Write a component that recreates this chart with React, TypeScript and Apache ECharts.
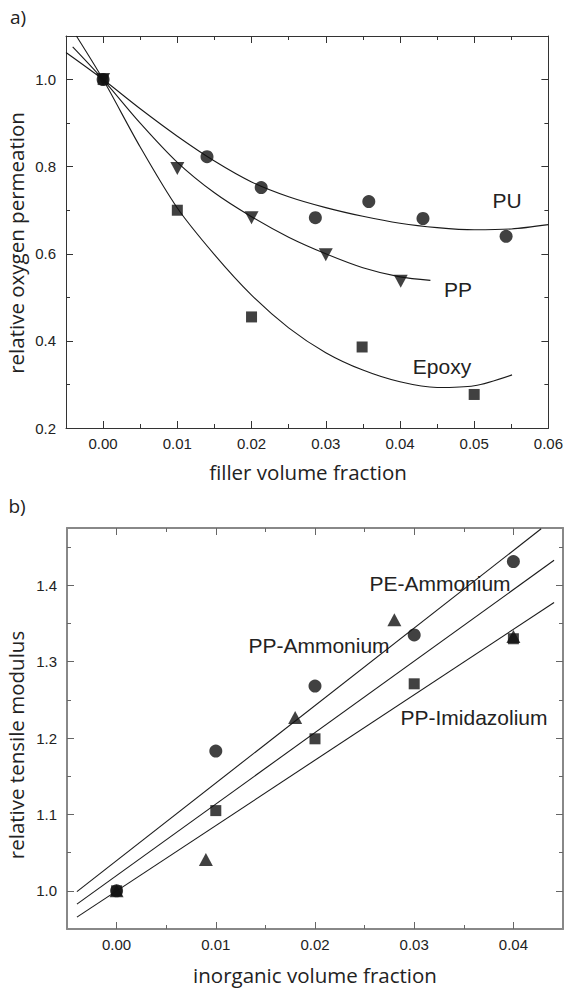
import React, { useEffect, useRef } from "react";
import * as echarts from "echarts";

// ---------- Panel a) data ----------
const puPoints: [number, number][] = [
  [0, 1.0], [0.014, 0.823], [0.0213, 0.752], [0.0286, 0.683], [0.0358, 0.72], [0.0431, 0.681], [0.0543, 0.64],
];
const ppPoints: [number, number][] = [
  [0, 1.0], [0.01, 0.796], [0.02, 0.683], [0.03, 0.598], [0.0401, 0.537],
];
const epoxyPoints: [number, number][] = [
  [0, 1.0], [0.01, 0.7], [0.02, 0.455], [0.0349, 0.386], [0.05, 0.277],
];
const puFit: [number, number][] = [
  [-0.005, 1.062], [0, 1.0], [0.005, 0.933], [0.01, 0.87], [0.015, 0.813], [0.02, 0.765],
  [0.025, 0.731], [0.03, 0.706], [0.035, 0.686], [0.04, 0.67], [0.045, 0.66], [0.05, 0.655],
  [0.055, 0.657], [0.06, 0.667],
];
const ppFit: [number, number][] = [
  [-0.0041, 1.075], [0, 1.0], [0.005, 0.9], [0.01, 0.81], [0.015, 0.74], [0.02, 0.685],
  [0.025, 0.638], [0.03, 0.6], [0.035, 0.568], [0.04, 0.547], [0.0441, 0.539],
];
const epoxyFit: [number, number][] = [
  [-0.0036, 1.1], [0, 1.0], [0.005, 0.845], [0.01, 0.705], [0.015, 0.598], [0.02, 0.505],
  [0.025, 0.43], [0.03, 0.373], [0.035, 0.333], [0.04, 0.306], [0.045, 0.293], [0.05, 0.297],
  [0.0551, 0.322],
];
const aXMajor = [0, 0.01, 0.02, 0.03, 0.04, 0.05, 0.06];
const aXMinor = [0.005, 0.015, 0.025, 0.035, 0.045, 0.055];
const aYMajor = [0.2, 0.4, 0.6, 0.8, 1.0];
const aYMinor = [0.3, 0.5, 0.7, 0.9];

// ---------- Panel b) data ----------
const circlePoints: [number, number][] = [
  [0, 1.0], [0.01, 1.183], [0.02, 1.268], [0.03, 1.335], [0.04, 1.431],
];
const trianglePoints: [number, number][] = [
  [0, 1.0], [0.009, 1.041], [0.018, 1.227], [0.028, 1.355], [0.04, 1.333],
];
const squarePoints: [number, number][] = [
  [0, 1.0], [0.01, 1.105], [0.02, 1.199], [0.03, 1.271], [0.04, 1.33],
];
const fitTop: [number, number][] = [[-0.004, 0.999], [0.0428, 1.474]];
const fitMiddle: [number, number][] = [[-0.004, 0.9826], [0.0441, 1.4327]];
const fitBottom: [number, number][] = [[-0.004, 0.9656], [0.0441, 1.3774]];
const bXMajor = [0, 0.01, 0.02, 0.03, 0.04];
const bXMinor = [0.005, 0.015, 0.025, 0.035];
const bYMajor = [1.0, 1.1, 1.2, 1.3, 1.4];
const bYMinor = [1.05, 1.15, 1.25, 1.35, 1.45];

const TICK_FONT = "'Liberation Sans', Arial, sans-serif";
const TITLE_FONT = "'Open Sans', 'Noto Sans', sans-serif";

function axisSet(
  kind: "x" | "y",
  gridIndex: number,
  min: number,
  max: number,
  major: number[],
  minor: number[],
  digits: number,
  lineColor: string,
  lineWidth: number,
  tickColor: string
) {
  const pos1 = kind === "x" ? "bottom" : "left";
  const pos2 = kind === "x" ? "top" : "right";
  const base = {
    type: "value",
    gridIndex,
    min,
    max,
    splitLine: { show: false },
    scale: true,
  };
  const mk = (position: string, ticks: number[], len: number, line: boolean, label: boolean) => ({
    ...base,
    position,
    axisLine: { show: line, onZero: false, lineStyle: { color: lineColor, width: lineWidth } },
    axisTick: {
      show: true,
      inside: true,
      length: len,
      customValues: ticks,
      lineStyle: { color: tickColor, width: 1 },
    },
    axisLabel: label
      ? {
          show: true,
          customValues: ticks,
          formatter: (v: number) => v.toFixed(digits),
          fontFamily: TICK_FONT,
          fontSize: 15,
          color: "#222",
          margin: kind === "x" ? 8 : 10,
        }
      : { show: false },
  });
  return [
    mk(pos1, major, 7, true, true),
    mk(pos1, minor, 4, false, false),
    mk(pos2, major, 7, true, false),
    mk(pos2, minor, 4, false, false),
  ];
}

export default function App() {
  const ref = useRef<HTMLDivElement>(null);
  useEffect(() => {
    if (!ref.current) return;
    const chart = echarts.init(ref.current, null, { renderer: "svg" });
    const markerColor = "#111";
    const fitStyle = { color: "#1a1a1a", width: 1.1 };
    const option: any = {
      animation: false,
      grid: [
        { left: 66, top: 36, width: 484, height: 392 },
        { left: 67, top: 528, width: 496, height: 401 },
      ],
      xAxis: [
        ...axisSet("x", 0, -0.005, 0.06, aXMajor, aXMinor, 2, "#333", 1, "#333"),
        ...axisSet("x", 1, -0.005, 0.045, bXMajor, bXMinor, 2, "#888", 2, "#666"),
      ],
      yAxis: [
        ...axisSet("y", 0, 0.2, 1.1, aYMajor, aYMinor, 1, "#333", 1, "#333"),
        ...axisSet("y", 1, 0.95, 1.475, bYMajor, bYMinor, 1, "#888", 2, "#666"),
      ],
      series: [
        { type: "line", name: "PU fit", xAxisIndex: 0, yAxisIndex: 0, data: puFit, smooth: 0.3, showSymbol: false, lineStyle: fitStyle, z: 2 },
        { type: "line", name: "PP fit", xAxisIndex: 0, yAxisIndex: 0, data: ppFit, smooth: 0.3, showSymbol: false, lineStyle: fitStyle, z: 2 },
        { type: "line", name: "Epoxy fit", xAxisIndex: 0, yAxisIndex: 0, data: epoxyFit, smooth: 0.3, showSymbol: false, lineStyle: fitStyle, z: 2 },
        { type: "scatter", name: "PU", xAxisIndex: 0, yAxisIndex: 0, data: puPoints, symbol: "circle", symbolSize: 13, itemStyle: { color: markerColor }, z: 3 },
        { type: "scatter", name: "PP", xAxisIndex: 0, yAxisIndex: 0, data: ppPoints, symbol: "triangle", symbolRotate: 180, symbolSize: [14, 13], itemStyle: { color: markerColor }, z: 3 },
        { type: "scatter", name: "Epoxy", xAxisIndex: 0, yAxisIndex: 0, data: epoxyPoints, symbol: "rect", symbolSize: 11, itemStyle: { color: markerColor }, z: 3 },

        { type: "line", name: "fit 1", xAxisIndex: 4, yAxisIndex: 4, data: fitTop, showSymbol: false, lineStyle: fitStyle, z: 2 },
        { type: "line", name: "fit 2", xAxisIndex: 4, yAxisIndex: 4, data: fitMiddle, showSymbol: false, lineStyle: fitStyle, z: 2 },
        { type: "line", name: "fit 3", xAxisIndex: 4, yAxisIndex: 4, data: fitBottom, showSymbol: false, lineStyle: fitStyle, z: 2 },
        { type: "scatter", name: "circles", xAxisIndex: 4, yAxisIndex: 4, data: circlePoints, symbol: "circle", symbolSize: 13, itemStyle: { color: markerColor }, z: 3 },
        { type: "scatter", name: "triangles", xAxisIndex: 4, yAxisIndex: 4, data: trianglePoints, symbol: "triangle", symbolSize: [14, 13], itemStyle: { color: markerColor }, z: 3 },
        { type: "scatter", name: "squares", xAxisIndex: 4, yAxisIndex: 4, data: squarePoints, symbol: "rect", symbolSize: 11, itemStyle: { color: markerColor }, z: 3 },
      ],
      graphic: [
        { type: "text", x: 18, y: 17, style: { text: "a)", font: `19px ${TITLE_FONT}`, fill: "#222", align: "center", verticalAlign: "middle" } },
        { type: "text", x: 17, y: 506, style: { text: "b)", font: `19px ${TITLE_FONT}`, fill: "#222", align: "center", verticalAlign: "middle" } },
        { type: "text", x: 16, y: 243, rotation: Math.PI / 2, style: { text: "relative oxygen permeation", font: `20.5px ${TITLE_FONT}`, fill: "#222", align: "center", verticalAlign: "middle" } },
        { type: "text", x: 308, y: 472, style: { text: "filler volume fraction", font: `20.5px ${TITLE_FONT}`, fill: "#222", align: "center", verticalAlign: "middle" } },
        { type: "text", x: 16, y: 745, rotation: Math.PI / 2, style: { text: "relative tensile modulus", font: `20.5px ${TITLE_FONT}`, fill: "#222", align: "center", verticalAlign: "middle" } },
        { type: "text", x: 315, y: 975, style: { text: "inorganic volume fraction", font: `20.5px ${TITLE_FONT}`, fill: "#222", align: "center", verticalAlign: "middle" } },
        { type: "text", x: 507, y: 200, style: { text: "PU", font: `21px ${TICK_FONT}`, fill: "#222", align: "center", verticalAlign: "middle" } },
        { type: "text", x: 458, y: 289, style: { text: "PP", font: `21px ${TICK_FONT}`, fill: "#222", align: "center", verticalAlign: "middle" } },
        { type: "text", x: 442, y: 366, style: { text: "Epoxy", font: `21px ${TICK_FONT}`, fill: "#222", align: "center", verticalAlign: "middle" } },
        { type: "text", x: 440, y: 583, style: { text: "PE-Ammonium", font: `21px ${TICK_FONT}`, fill: "#222", align: "center", verticalAlign: "middle" } },
        { type: "text", x: 319, y: 645, style: { text: "PP-Ammonium", font: `21px ${TICK_FONT}`, fill: "#222", align: "center", verticalAlign: "middle" } },
        { type: "text", x: 474, y: 717, style: { text: "PP-Imidazolium", font: `21px ${TICK_FONT}`, fill: "#222", align: "center", verticalAlign: "middle" } },
      ],
    };
    chart.setOption(option);
    return () => chart.dispose();
  }, []);
  return (
    <div
      ref={ref}
      style={{ position: "fixed", left: 0, top: 0, width: 566, height: 989, background: "#fff" }}
    />
  );
}
